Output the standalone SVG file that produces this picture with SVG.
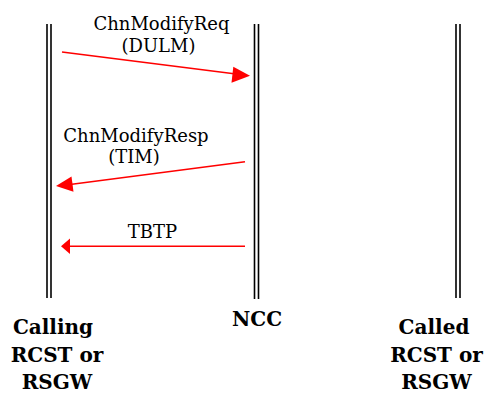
<svg xmlns="http://www.w3.org/2000/svg" width="488" height="394" viewBox="0 0 488 394">
  <style>
    .life { stroke: #000; stroke-width: 1.6; fill: none; }
    .msg { stroke: #ff0000; stroke-width: 1.6; fill: none; }
    .head { fill: #ff0000; stroke: none; }
    text { font-family: "DejaVu Serif", serif; fill: #000; text-anchor: middle; }
    .lbl { font-size: 18px; }
    .name { font-size: 20px; font-weight: bold; }
  </style>
  <rect width="488" height="394" fill="#ffffff"/>

  <!-- Calling terminal lifeline -->
  <g id="calling">
    <line class="life" x1="47" y1="24" x2="47" y2="298"/>
    <line class="life" x1="51" y1="24" x2="51" y2="298"/>
    <text class="name" x="53" y="334">Calling</text>
    <text class="name" x="57" y="362">RCST or</text>
    <text class="name" x="57" y="389">RSGW</text>
  </g>

  <!-- NCC lifeline -->
  <g id="ncc">
    <line class="life" x1="254.5" y1="24" x2="254.5" y2="299"/>
    <line class="life" x1="258.5" y1="24" x2="258.5" y2="299"/>
    <text class="name" x="257" y="326">NCC</text>
  </g>

  <!-- Called terminal lifeline -->
  <g id="called">
    <line class="life" x1="456" y1="24" x2="456" y2="298"/>
    <line class="life" x1="460" y1="24" x2="460" y2="298"/>
    <text class="name" x="434" y="334">Called</text>
    <text class="name" x="436.5" y="362">RCST or</text>
    <text class="name" x="436.5" y="389">RSGW</text>
  </g>

  <!-- Messages -->
  <g id="connectors">
    <line class="msg" x1="62" y1="52" x2="236" y2="74"/>
    <polygon class="head" points="250,75.7 233.3,66.7 231.5,82.7"/>
    <text class="lbl" x="161.5" y="30">ChnModifyReq</text>
    <text class="lbl" x="158.5" y="52">(DULM)</text>

    <line class="msg" x1="245" y1="161.7" x2="70" y2="184.5"/>
    <polygon class="head" points="56,186 71.5,176.5 73.5,191.7"/>
    <text class="lbl" x="136" y="142">ChnModifyResp</text>
    <text class="lbl" x="134" y="163">(TIM)</text>

    <line class="msg" x1="245" y1="246.3" x2="68" y2="246.3"/>
    <polygon class="head" points="61,246.3 70,238.5 70,254"/>
    <text class="lbl" x="152.5" y="238">TBTP</text>
  </g>
</svg>
